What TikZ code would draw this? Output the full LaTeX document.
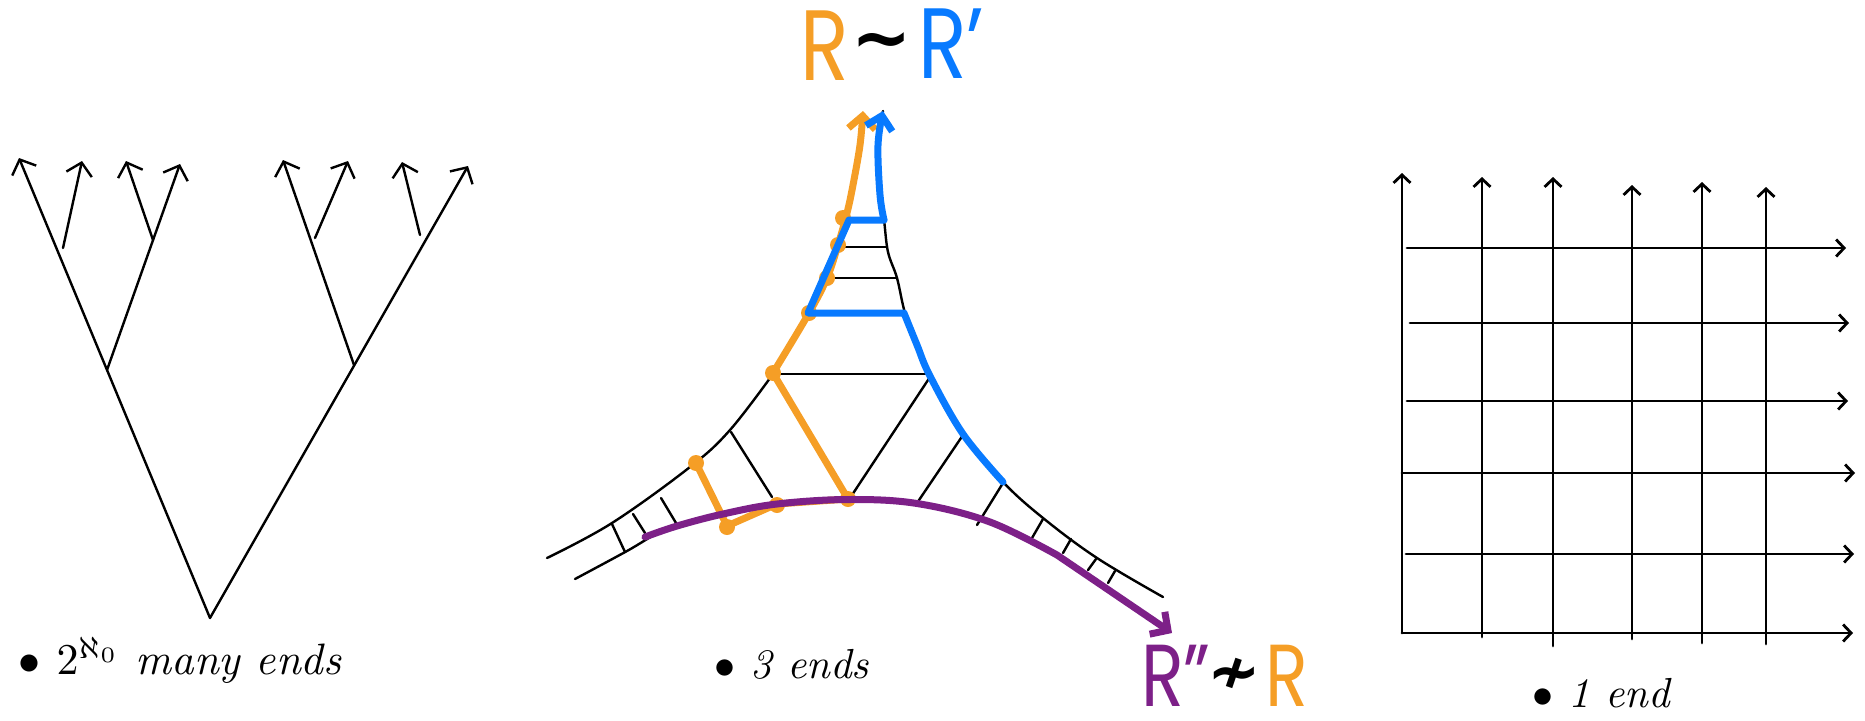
\documentclass[tikz,border=0pt]{standalone}
\usepackage{fontspec}
\usetikzlibrary{arrows.meta}
\newfontfamily\handfont{Poppins}
\newfontfamily\symfont{DejaVu Sans}
\definecolor{rOrange}{RGB}{245,158,38}
\definecolor{rBlue}{RGB}{8,122,255}
\definecolor{rPurple}{RGB}{125,32,136}
\tikzset{
  blk/.style={line width=2.4pt,line cap=round,black},
  treearrow/.style={blk,-{Straight Barb[length=12pt,width=26pt]}},
  gridline/.style={line width=2.8pt,line cap=round,black},
  gridarrow/.style={gridline,-{Straight Barb[length=8pt,width=17pt]}},
  ray/.style={line width=7pt,line cap=round,line join=round},
  rayarrow/.style={ray,-{Straight Barb[length=13pt,width=27pt]}},
  odot/.style={circle,fill=rOrange,inner sep=0pt,minimum size=16pt},
  lbl/.style={font=\itshape,scale=4.4,anchor=base west,inner sep=0pt},
  bigR/.style={font={\handfont\fontsize{100}{100}\selectfont},anchor=base west,inner sep=0pt,xscale=0.8,text height=72pt,text depth=0pt},
  smallR/.style={font={\handfont\fontsize{88}{88}\selectfont},anchor=base west,inner sep=0pt,xscale=0.8,text height=64pt,text depth=0pt},
  symtext/.style={inner sep=0pt,text height=20pt,text depth=0pt},
}
\begin{document}
\begin{tikzpicture}[x=1pt,y=-1pt]
\useasboundingbox (0,0) rectangle (1865,720);

% ---------------- tree ----------------
\coordinate (r0) at (210,618);
\coordinate (lt) at (19,158);
\coordinate (a) at (107,370);
\coordinate (a2) at (180,164);
\coordinate (b) at (153,240);
\coordinate (b1) at (126,161);
\coordinate (s1) at (63,248);
\coordinate (s1t) at (82,161);
\coordinate (rt) at (468,166);
\coordinate (c) at (354,365);
\coordinate (ct) at (283,160);
\coordinate (d) at (315,238);
\coordinate (dt) at (348,161);
\coordinate (e) at (420,235);
\coordinate (et) at (402,162);
\draw[treearrow] (r0) -- (lt);
\draw[treearrow] (a) -- (a2);
\draw[treearrow] (b) -- (b1);
\draw[treearrow] (s1) -- (s1t);
\draw[treearrow] (r0) -- (rt);
\draw[treearrow] (c) -- (ct);
\draw[treearrow] (d) -- (dt);
\draw[treearrow] (e) -- (et);

% ---------------- grid ----------------
\foreach \i/\x/\t/\b in {1/1402/173/633, 2/1482/177/637, 3/1553/177/646, 4/1632/185/639, 5/1702/182/643, 6/1766/187/644} {
  \coordinate (vb\i) at (\x,\b);
  \coordinate (vt\i) at (\x,\t);
  \draw[gridarrow] (vb\i) -- (vt\i);
}
\foreach \i/\y/\l/\r in {1/248/1407/1846, 2/323/1410/1849, 3/401/1407/1848, 4/473/1402/1855, 5/554/1406/1854, 6/633/1402/1853} {
  \coordinate (hl\i) at (\l,\y);
  \coordinate (hr\i) at (\r,\y);
  \draw[gridarrow] (hl\i) -- (hr\i);
}

% ---------------- middle: black frame ----------------
\draw[blk] plot[smooth,tension=0.6] coordinates {(547,558) (612,523) (690,467) (730,430) (773,374)};
\draw[blk] plot[smooth,tension=0.6] coordinates {(883,111) (878,145) (880,195) (884,220) (888,252) (897,278) (905,313) (917,345) (930,376) (963,434) (1003,482) (1043,518) (1097,558) (1163,597)};
\draw[blk] plot[smooth,tension=0.6] coordinates {(575,579) (627,551) (660,532) (690,522)};
% rungs
\draw[blk] (845,247) -- (887,247);
\draw[blk] (832,278) -- (897,278);
\draw[blk] (773,374) -- (930,374);
\draw[blk] (930,377) -- (852,495);
\draw[blk] (612,524) -- (625,552);
\draw[blk] (633,514) -- (645,533);
\draw[blk] (661,498) -- (676,523);
\draw[blk] (731,432) -- (772,497);
\draw[blk] (963,435) -- (917,503);
\draw[blk] (1003,483) -- (977,525);
\draw[blk] (1043,519) -- (1032,538);
\draw[blk] (1071,539) -- (1063,553);
\draw[blk] (1096,559) -- (1088,570);
\draw[blk] (1115,571) -- (1108,583);

% ---------------- orange ray R ----------------
\coordinate (o1) at (696,463);
\coordinate (o2) at (727,526);
\coordinate (o3) at (777,504);
\coordinate (o4) at (848,499);
\coordinate (o5) at (773,373);
\draw[ray,rOrange] (o1) -- (o2) -- (o3) -- (o4) -- (o5);
\draw[rayarrow,rOrange] plot[smooth,tension=0.6] coordinates {(773,373) (809,313) (827,278) (838,245) (847,213) (853,185) (860,145) (863,111)};
\foreach \p [count=\k] in {(696,463),(727,527),(777,505),(848,499),(773,373),(809,313),(827,278),(838,245),(843,218)} {
  \node[odot] (od\k) at \p {};
}

% ---------------- blue ray R' ----------------
\draw[ray,rBlue] plot[smooth,tension=0.6] coordinates {(1003,482) (963,434) (930,376) (917,345) (904,313)} -- (808,313) -- (849,220) -- (884,220);
\draw[rayarrow,rBlue] plot[smooth,tension=0.6] coordinates {(884,220) (880,195) (878,145) (883,111)};

% ---------------- purple ray R'' ----------------
\draw[rayarrow,rPurple] plot[smooth,tension=0.6] coordinates {(645,537) (677,526) (723,514) (777,504) (848,499.5) (917,503.5) (990,522) (1057,555)} -- (1172,633);

% ---------------- texts ----------------
\node[bigR,text=rOrange] (tR) at (800,80) {R};
\node[symtext,font={\symfont\bfseries\fontsize{72}{72}\selectfont}] (tsim) at (882,52) {∼};
\node[bigR,text=rBlue] (tRp) at (918,78) {R’};

\node[smallR,text=rPurple] (bRpp) at (1141,706) {R”};
\node[symtext,font={\symfont\bfseries\fontsize{64}{64}\selectfont}] (bnsim) at (1234,683) {≁};
\node[smallR,text=rOrange] (bR) at (1265,706) {R};

\node[lbl] (lab1) at (18,674) {$\bullet$\ $2^{\aleph_0}$ many ends};
\node[lbl,scale=0.955] (lab2) at (714,678) {$\bullet$\ 3 ends};
\node[lbl,scale=0.955] (lab3) at (1532,707) {$\bullet$\ 1 end};
\end{tikzpicture}
\end{document}
